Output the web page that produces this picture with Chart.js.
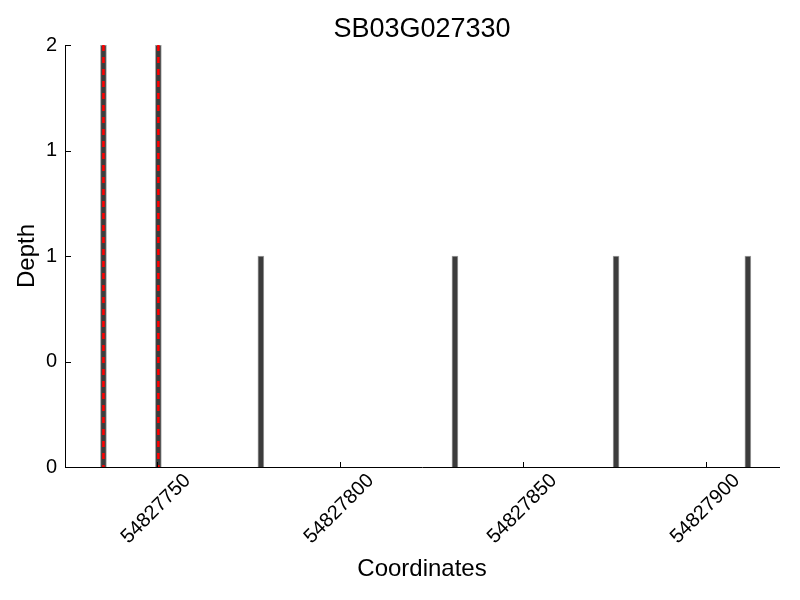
<!DOCTYPE html>
<html>
<head>
<meta charset="utf-8">
<script src="https://cdn.jsdelivr.net/npm/chart.js@4.4.1/dist/chart.umd.min.js"></script>
<style>
  body { margin: 0; background: #fff; }
  #contenedor { width: 800px; height: 600px; }
</style>
</head>
<body>
<div id="contenedor"><canvas id="grafico"></canvas></div>
<script>
const titulo = 'SB03G027330';
const coordenadas = [54827735, 54827750, 54827778, 54827831, 54827875, 54827911];
const profundidad = [2, 2, 1, 1, 1, 1];
const marcadas = [54827735, 54827750];
const ticksX = [54827750, 54827800, 54827850, 54827900];
const ticksY = [0, 0.5, 1, 1.5, 2];
const etiquetasY = ['0', '0', '1', '1', '2'];

const fuente = "'Liberation Sans', Arial, sans-serif";

// ticks hacia dentro y titulo centrado sobre el area del grafico
const extras = {
  id: 'extras',
  afterDraw(chart) {
    const ctx = chart.ctx;
    const area = chart.chartArea;
    const x = chart.scales.x;
    const y = chart.scales.y;
    ctx.save();
    ctx.strokeStyle = '#000';
    ctx.lineWidth = 1;
    ctx.beginPath();
    ticksX.forEach(v => {
      const px = Math.round(x.getPixelForValue(v)) + 0.5;
      ctx.moveTo(px, area.bottom);
      ctx.lineTo(px, area.bottom - 5);
    });
    ticksY.forEach(v => {
      const py = Math.round(y.getPixelForValue(v)) + 0.5;
      ctx.moveTo(area.left, py);
      ctx.lineTo(area.left + 6, py);
    });
    ctx.stroke();
    ctx.fillStyle = '#000';
    ctx.font = '27px ' + fuente;
    ctx.textAlign = 'center';
    ctx.textBaseline = 'middle';
    ctx.fillText(titulo, (area.left + area.right) / 2, 30);
    ctx.restore();
  }
};

const datasets = [{
  type: 'bar',
  data: coordenadas.map((c, i) => ({ x: c + 0.5, y: profundidad[i] })),
  backgroundColor: '#3c3c3c',
  borderColor: '#a0a0a0',
  borderWidth: 1,
  barThickness: 6,
  order: 2
}];
marcadas.forEach(c => {
  datasets.push({
    type: 'line',
    data: [{ x: c + 0.5, y: 2 }, { x: c + 0.5, y: 0 }],
    borderColor: '#ff0000',
    borderWidth: 2.5,
    borderDash: [6, 6],
    borderCapStyle: 'butt',
    pointRadius: 0,
    order: 1
  });
});

new Chart(document.getElementById('grafico'), {
  type: 'bar',
  data: { datasets },
  plugins: [extras],
  options: {
    responsive: true,
    maintainAspectRatio: false,
    animation: false,
    layout: { padding: { top: 45, right: 21, left: 0, bottom: 0 } },
    plugins: {
      legend: { display: false },
      tooltip: { enabled: false }
    },
    scales: {
      x: {
        type: 'linear',
        min: 54827725,
        max: 54827920,
        offset: false,
        afterBuildTicks: s => { s.ticks = ticksX.map(v => ({ value: v })); },
        afterFit: s => { s.height = 133; },
        grid: { display: false },
        border: { display: true, color: '#000', width: 1 },
        ticks: {
          font: { family: fuente, size: 20 },
          color: '#000',
          minRotation: 45,
          maxRotation: 45,
          labelOffset: 31,
          padding: -6,
          callback: v => String(v)
        },
        title: {
          display: true,
          text: 'Coordinates',
          font: { family: fuente, size: 24 },
          color: '#000',
          padding: { top: 0, bottom: 16 }
        }
      },
      y: {
        min: 0,
        max: 2,
        afterBuildTicks: s => { s.ticks = ticksY.map(v => ({ value: v })); },
        afterFit: s => { s.width = 65; },
        grid: { display: false },
        border: { display: true, color: '#000', width: 1 },
        ticks: {
          font: { family: fuente, size: 20 },
          color: '#000',
          padding: 0,
          callback: (v, i) => etiquetasY[i]
        },
        title: {
          display: true,
          text: 'Depth',
          font: { family: fuente, size: 24 },
          color: '#000',
          padding: { top: 13, bottom: 0 }
        }
      }
    }
  }
});
</script>
</body>
</html>
